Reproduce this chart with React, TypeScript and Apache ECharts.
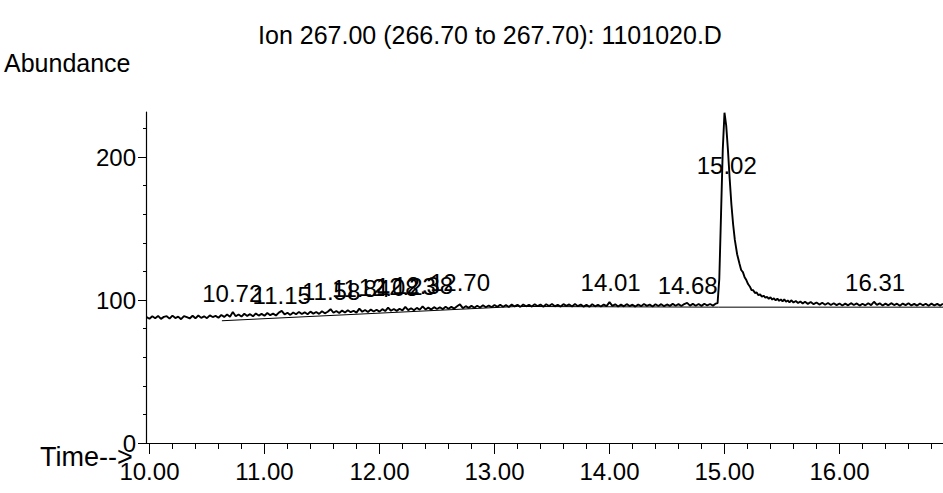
import React, { useEffect, useRef } from "react";
import * as echarts from "echarts";

const FONT = "'Liberation Sans', Arial, Helvetica, sans-serif";

const titleText = "Ion 267.00 (266.70 to 267.70): 1101020.D";
const yAxisName = "Abundance";
const xAxisName = "Time-->";

const xMajorTicks = [10, 11, 12, 13, 14, 15, 16];
const xMinorTicks = [
  10.2, 10.4, 10.6, 10.8, 11.2, 11.4, 11.6, 11.8, 12.2, 12.4, 12.6, 12.8,
  13.2, 13.4, 13.6, 13.8, 14.2, 14.4, 14.6, 14.8, 15.2, 15.4, 15.6, 15.8,
  16.2, 16.4, 16.6, 16.8,
];
const yMajorTicks = [0, 100, 200];
const yMinorTicks = [20, 40, 60, 80, 120, 140, 160, 180, 220];

// Ion trace: [time (min), abundance]
const trace: [number, number][] = [
  [9.975, 88.0], [10.0, 86.9], [10.025, 88.6], [10.05, 87.3], [10.075, 88.9], [10.1, 86.8],
  [10.125, 88.2], [10.15, 88.7], [10.175, 87.0], [10.2, 89.1], [10.225, 87.4], [10.25, 88.4],
  [10.275, 86.6], [10.3, 88.8], [10.325, 88.0], [10.35, 87.1], [10.375, 89.0], [10.4, 87.2],
  [10.425, 89.2], [10.45, 87.5], [10.475, 88.6], [10.5, 87.3], [10.525, 89.3], [10.55, 88.1],
  [10.575, 88.9], [10.6, 87.6], [10.625, 89.5], [10.65, 88.2], [10.675, 89.8], [10.7, 88.3],
  [10.725, 91.6], [10.75, 88.6], [10.775, 89.9], [10.8, 88.4], [10.825, 90.4], [10.85, 88.9],
  [10.875, 90.1], [10.9, 88.6], [10.925, 90.6], [10.95, 89.1], [10.975, 90.3], [11.0, 89.0],
  [11.025, 90.9], [11.05, 89.4], [11.075, 90.5], [11.1, 89.2], [11.125, 91.2], [11.15, 92.4],
  [11.175, 89.9], [11.2, 91.1], [11.225, 89.6], [11.25, 91.3], [11.275, 90.0], [11.3, 91.7],
  [11.325, 90.2], [11.35, 91.4], [11.375, 90.1], [11.4, 91.9], [11.425, 90.5], [11.45, 91.6],
  [11.475, 90.3], [11.5, 92.1], [11.525, 90.7], [11.55, 91.8], [11.575, 93.6], [11.6, 91.1],
  [11.625, 92.3], [11.65, 90.9], [11.675, 92.6], [11.7, 91.3], [11.725, 92.8], [11.75, 91.5],
  [11.775, 92.5], [11.8, 91.2], [11.825, 94.0], [11.85, 91.8], [11.875, 93.0], [11.9, 91.6],
  [11.925, 93.3], [11.95, 92.0], [11.975, 93.2], [12.0, 91.9], [12.025, 93.6], [12.05, 92.3],
  [12.075, 94.7], [12.1, 92.5], [12.125, 93.7], [12.15, 92.4], [12.175, 93.9], [12.2, 92.7],
  [12.225, 95.2], [12.25, 92.9], [12.275, 94.2], [12.3, 92.8], [12.325, 94.5], [12.35, 93.2],
  [12.375, 95.6], [12.4, 93.4], [12.425, 94.7], [12.45, 93.3], [12.475, 95.0], [12.5, 93.7],
  [12.525, 94.9], [12.55, 93.6], [12.575, 95.3], [12.6, 93.9], [12.625, 95.2], [12.65, 94.0],
  [12.675, 95.6], [12.7, 97.0], [12.725, 94.3], [12.75, 95.7], [12.775, 94.5], [12.8, 95.9],
  [12.825, 94.6], [12.85, 96.0], [12.875, 94.8], [12.9, 96.3], [12.925, 94.9], [12.95, 96.2],
  [12.975, 95.0], [13.0, 96.5], [13.025, 95.2], [13.05, 96.7], [13.075, 95.3], [13.1, 96.4],
  [13.125, 95.1], [13.15, 96.8], [13.175, 95.5], [13.2, 96.6], [13.225, 95.2], [13.25, 96.9],
  [13.275, 95.6], [13.3, 96.7], [13.325, 95.4], [13.35, 97.1], [13.375, 95.7], [13.4, 96.8],
  [13.425, 95.3], [13.45, 97.0], [13.475, 95.8], [13.5, 97.2], [13.525, 95.6], [13.55, 96.7],
  [13.575, 95.4], [13.6, 97.1], [13.625, 95.9], [13.65, 96.9], [13.675, 95.5], [13.7, 97.2],
  [13.725, 95.7], [13.75, 96.8], [13.775, 95.4], [13.8, 96.6], [13.825, 95.3], [13.85, 97.0],
  [13.875, 95.6], [13.9, 96.7], [13.925, 95.5], [13.95, 96.9], [13.975, 95.7], [14.0, 98.5],
  [14.025, 95.9], [14.05, 97.0], [14.075, 95.5], [14.1, 96.8], [14.125, 95.6], [14.15, 97.1],
  [14.175, 95.8], [14.2, 96.7], [14.225, 95.4], [14.25, 96.9], [14.275, 95.7], [14.3, 97.2],
  [14.325, 95.9], [14.35, 96.8], [14.375, 95.5], [14.4, 97.0], [14.425, 95.8], [14.45, 97.1],
  [14.475, 95.7], [14.5, 96.9], [14.525, 95.9], [14.55, 97.3], [14.575, 96.0], [14.6, 97.1],
  [14.625, 95.8], [14.65, 97.2], [14.675, 98.0], [14.7, 96.1], [14.725, 97.3], [14.75, 96.0],
  [14.775, 97.2], [14.8, 95.9], [14.825, 97.4], [14.85, 96.2], [14.875, 97.2], [14.9, 96.1],
  [14.925, 97.5], [14.94, 97.8], [14.955, 115.0], [14.97, 160.0], [14.985, 205.0], [15.0, 231.0],
  [15.015, 222.0], [15.03, 205.0], [15.045, 185.0], [15.06, 167.0], [15.075, 153.0], [15.09, 142.0],
  [15.11, 132.0], [15.13, 125.5], [15.145, 121.0], [15.16, 119.5], [15.175, 116.0], [15.19, 114.0],
  [15.205, 111.2], [15.22, 109.5], [15.235, 107.0], [15.25, 106.8], [15.265, 104.9], [15.28, 105.3],
  [15.295, 103.4], [15.31, 103.9], [15.325, 102.4], [15.34, 103.0], [15.355, 101.6], [15.37, 102.2],
  [15.385, 100.9], [15.4, 101.9], [15.415, 100.3], [15.43, 101.2], [15.445, 99.8], [15.46, 101.0],
  [15.475, 99.4], [15.49, 100.4], [15.505, 99.0], [15.52, 100.5], [15.535, 98.8], [15.55, 99.7],
  [15.565, 98.4], [15.58, 99.8], [15.6, 98.3], [15.62, 99.3], [15.64, 97.9], [15.66, 99.0],
  [15.68, 97.6], [15.7, 98.8], [15.725, 97.3], [15.75, 98.6], [15.775, 97.1], [15.8, 98.3],
  [15.825, 96.8], [15.85, 98.1], [15.875, 96.7], [15.9, 97.9], [15.925, 96.5], [15.95, 97.7],
  [15.975, 96.4], [16.0, 97.6], [16.025, 96.2], [16.05, 97.5], [16.075, 96.3], [16.1, 97.8],
  [16.125, 96.5], [16.15, 97.6], [16.175, 96.1], [16.2, 97.4], [16.225, 96.3], [16.25, 97.7],
  [16.275, 96.4], [16.3, 98.8], [16.325, 96.6], [16.35, 97.7], [16.375, 96.2], [16.4, 97.5],
  [16.425, 96.3], [16.45, 97.8], [16.475, 96.5], [16.5, 97.4], [16.525, 96.0], [16.55, 97.5],
  [16.575, 96.4], [16.6, 97.7], [16.625, 96.2], [16.65, 97.3], [16.675, 96.1], [16.7, 97.6],
  [16.725, 96.3], [16.75, 97.4], [16.775, 96.0], [16.8, 97.5], [16.825, 96.2], [16.85, 97.3],
  [16.875, 96.1], [16.9, 97.4],
];

// Integration baseline drawn under the peaks
const baseline: [number, number][] = [
  [10.63, 85.5], [13.2, 95.5], [14.95, 95.0], [16.9, 95.0],
];

const peakLabels = ["10.72", "11.15", "11.58", "11.84", "12.08", "12.23", "12.38", "12.70", "14.01", "14.68", "15.02", "16.31"];
const peakTimes = [10.72, 11.15, 11.58, 11.84, 12.08, 12.23, 12.38, 12.7, 14.01, 14.68, 15.02, 16.31];
const labelHeights = [104.9, 103.5, 106.3, 108.4, 109.0, 109.8, 110.5, 112.0, 112.6, 110.5, 194.4, 112.6];

export default function App() {
  const ref = useRef<HTMLDivElement>(null);
  useEffect(() => {
    document.body.style.margin = "0";
    if (!ref.current) return;
    const chart = echarts.init(ref.current, null, { renderer: "svg" });
    const xMin = 9.97;
    const xMax = 16.9;
    const yMin = 0;
    const yMax = 231.5;
    const lineColor = "#000";
    chart.setOption({
      animation: false,
      backgroundColor: "#fff",
      grid: { left: 146, right: 0, top: 112, bottom: 50, containLabel: false },
      xAxis: [
        {
          type: "value",
          min: xMin,
          max: xMax,
          axisLine: { show: true, lineStyle: { color: lineColor, width: 1.2 } },
          axisTick: { show: true, customValues: xMajorTicks, length: 11, lineStyle: { color: lineColor } },
          axisLabel: {
            show: true,
            customValues: xMajorTicks,
            formatter: (v: number) => v.toFixed(2),
            color: "#000",
            fontFamily: FONT,
            fontSize: 24,
            margin: 16,
          },
          splitLine: { show: false },
        },
        {
          type: "value",
          min: xMin,
          max: xMax,
          position: "bottom",
          axisLine: { show: false },
          axisTick: { show: true, customValues: xMinorTicks, length: 6, lineStyle: { color: lineColor } },
          axisLabel: { show: false },
          splitLine: { show: false },
        },
      ],
      yAxis: [
        {
          type: "value",
          min: yMin,
          max: yMax,
          axisLine: { show: true, lineStyle: { color: lineColor, width: 1.2 } },
          axisTick: { show: true, customValues: yMajorTicks, length: 8, lineStyle: { color: lineColor } },
          axisLabel: {
            show: true,
            customValues: yMajorTicks,
            color: "#000",
            fontFamily: FONT,
            fontSize: 24,
            margin: 10,
          },
          splitLine: { show: false },
        },
        {
          type: "value",
          min: yMin,
          max: yMax,
          position: "left",
          axisLine: { show: false },
          axisTick: { show: true, customValues: yMinorTicks, length: 3, lineStyle: { color: lineColor } },
          axisLabel: { show: false },
          splitLine: { show: false },
        },
      ],
      series: [
        {
          type: "line",
          data: trace,
          showSymbol: false,
          symbol: "none",
          lineStyle: { color: "#000", width: 1.9 },
          silent: true,
          z: 3,
        },
        {
          type: "line",
          data: baseline,
          showSymbol: false,
          symbol: "none",
          lineStyle: { color: "#000", width: 1 },
          silent: true,
          z: 2,
        },
        {
          type: "scatter",
          data: peakTimes.map((t, i) => ({ value: [t, labelHeights[i]], name: peakLabels[i] })),
          symbol: "circle",
          symbolSize: 1,
          itemStyle: { color: "transparent", opacity: 1 },
          label: {
            show: true,
            position: "inside",
            formatter: "{b}",
            color: "#000",
            opacity: 1,
            fontFamily: FONT,
            fontSize: 24,
          },
          silent: true,
          z: 4,
        },
      ],
      graphic: [
        {
          type: "text",
          style: {
            x: 490,
            y: 35,
            text: titleText,
            textAlign: "center",
            textVerticalAlign: "middle",
            fill: "#000",
            font: `25px ${FONT}`,
          },
        },
        {
          type: "text",
          style: {
            x: 4,
            y: 63,
            text: yAxisName,
            textAlign: "left",
            textVerticalAlign: "middle",
            fill: "#000",
            font: `25px ${FONT}`,
          },
        },
        {
          type: "text",
          style: {
            x: 40,
            y: 457,
            text: xAxisName,
            textAlign: "left",
            textVerticalAlign: "middle",
            fill: "#000",
            font: `27px ${FONT}`,
          },
        },
      ],
    });
    return () => chart.dispose();
  }, []);
  return <div ref={ref} style={{ width: 943, height: 493 }} />;
}
